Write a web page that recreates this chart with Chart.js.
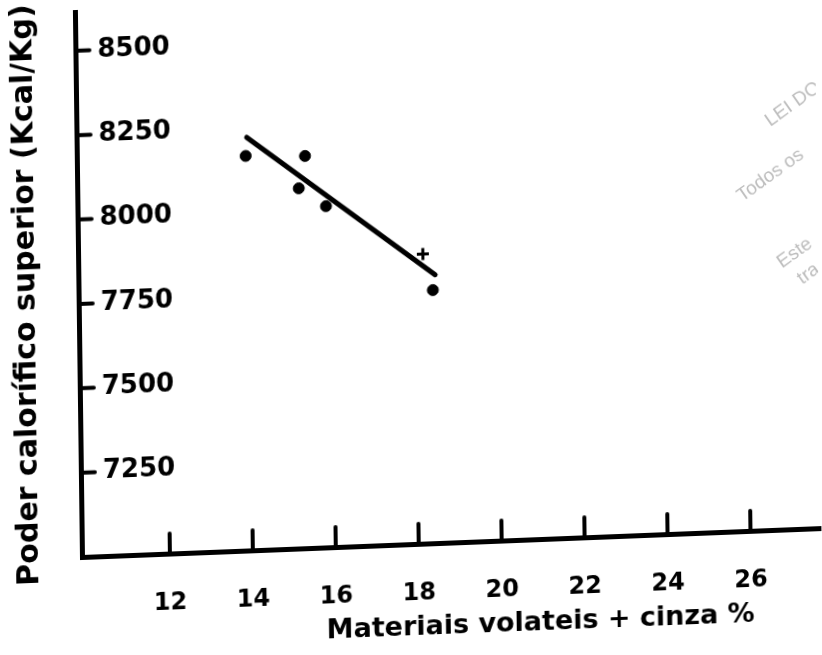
<!DOCTYPE html>
<html>
<head>
<meta charset="utf-8">
<script src="https://cdn.jsdelivr.net/npm/chart.js@4.4.1/dist/chart.umd.min.js"></script>
<style>
  html, body { margin: 0; background: #fff; }
  #wrap { position: relative; width: 822px; height: 655px; overflow: hidden; background: #fff; }
  /* the printed graph sits slightly skewed on the page */
  #graf { display: block; transform-origin: 82px 557px; transform: rotate(-0.74deg) skewY(-1.5deg); }
</style>
</head>
<body>
<div id="wrap"><canvas id="graf" width="822" height="655"></canvas></div>
<script>
// amostras: materiais voláteis + cinza (%) x poder calorífico superior
const volateis = [13.95, 15.38, 15.22, 15.87, 18.19, 18.42]
const poder = [8169, 8162, 8067, 8011, 7858, 7750]
const estilos = ['circle', 'circle', 'circle', 'circle', 'cross', 'circle']

// reta ajustada
const retaX = [13.98, 18.48]
const retaY = [8224, 7795]

const xTicks = [12, 14, 16, 18, 20, 22, 24, 26]
const yTicks = [7250, 7500, 7750, 8000, 8250, 8500]

const tituloX = 'Materiais volateis + cinza %'
const tituloY = 'Poder calorífico superior (Kcal/Kg)'
const marcaDagua = ['LEI DO', 'Todos os', 'Este', 'tra']

Chart.defaults.font.family = 'DejaVu Sans'
Chart.defaults.color = '#000'

// inward tick marks, axis titles and the faint stamp on the right
const extras = {
  id: 'extras',
  afterDraw(chart) {
    const ctx = chart.ctx
    const { left, bottom } = chart.chartArea
    const xs = chart.scales.x
    const ys = chart.scales.y
    ctx.save()
    ctx.strokeStyle = '#000'
    ctx.lineWidth = 4
    ctx.lineCap = 'round'
    xTicks.forEach(v => {
      const px = xs.getPixelForValue(v)
      ctx.beginPath()
      ctx.moveTo(px, bottom)
      ctx.lineTo(px, bottom - 20)
      ctx.stroke()
    })
    yTicks.forEach(v => {
      const py = ys.getPixelForValue(v)
      ctx.beginPath()
      ctx.moveTo(left, py)
      ctx.lineTo(left + 14, py)
      ctx.stroke()
    })

    ctx.fillStyle = '#000'
    ctx.font = 'bold 27px "DejaVu Sans"'
    ctx.textAlign = 'center'
    ctx.textBaseline = 'middle'
    ctx.fillText(tituloX, left + 458, bottom + 84)

    ctx.save()
    ctx.font = 'bold 30px "DejaVu Sans"'
    ctx.translate(30, 293)
    ctx.rotate(-Math.PI / 2)
    ctx.fillText(tituloY, 0, 0)
    ctx.restore()

    ctx.fillStyle = '#bdbdbd'
    ctx.font = '19px "Liberation Sans"'
    ctx.textAlign = 'left'
    ctx.textBaseline = 'alphabetic'
    const pos = [[776, 154], [747, 228], [786, 296], [806, 313]]
    marcaDagua.forEach((t, i) => {
      ctx.save()
      ctx.translate(pos[i][0], pos[i][1])
      ctx.rotate(-34 * Math.PI / 180)
      ctx.fillText(t, 0, 0)
      ctx.restore()
    })
    ctx.restore()
  }
}

const ctx = document.getElementById('graf').getContext('2d')
new Chart(ctx, {
  type: 'scatter',
  data: {
    datasets: [
      {
        label: 'amostras',
        data: volateis.map((x, i) => ({ x: x, y: poder[i] })),
        backgroundColor: '#000',
        borderColor: '#000',
        pointStyle: estilos,
        pointRadius: estilos.map(s => s === 'cross' ? 6 : 5.5),
        pointBorderWidth: estilos.map(s => s === 'cross' ? 3 : 1)
      },
      {
        label: 'reta',
        type: 'line',
        data: retaX.map((x, i) => ({ x: x, y: retaY[i] })),
        borderColor: '#000',
        borderWidth: 5,
        pointRadius: 0,
        borderCapStyle: 'round',
        fill: false
      }
    ]
  },
  options: {
    responsive: false,
    animation: false,
    devicePixelRatio: 1,
    layout: { padding: { top: 12, right: 0, bottom: 0, left: 0 }, autoPadding: false },
    plugins: { legend: { display: false }, tooltip: { enabled: false } },
    scales: {
      x: {
        type: 'linear',
        min: 9.88,
        max: 27.71,
        afterBuildTicks: s => { s.ticks = xTicks.map(v => ({ value: v })) },
        afterFit: s => { s.height = 98 },
        grid: { drawOnChartArea: false, drawTicks: false },
        border: { display: true, color: '#000', width: 5 },
        ticks: { padding: 35, font: { size: 24, weight: 'bold' }, maxRotation: 0, callback: v => String(v) }
      },
      y: {
        type: 'linear',
        min: 7000,
        max: 8615,
        afterBuildTicks: s => { s.ticks = yTicks.map(v => ({ value: v })) },
        afterFit: s => { s.width = 82; s.paddingTop = 0; s.paddingBottom = 0 },
        grid: { drawOnChartArea: false, drawTicks: false },
        border: { display: true, color: '#000', width: 5 },
        ticks: { mirror: true, padding: 22, font: { size: 26, weight: 'bold' }, callback: v => String(v) }
      }
    }
  },
  plugins: [extras]
})
</script>
</body>
</html>
